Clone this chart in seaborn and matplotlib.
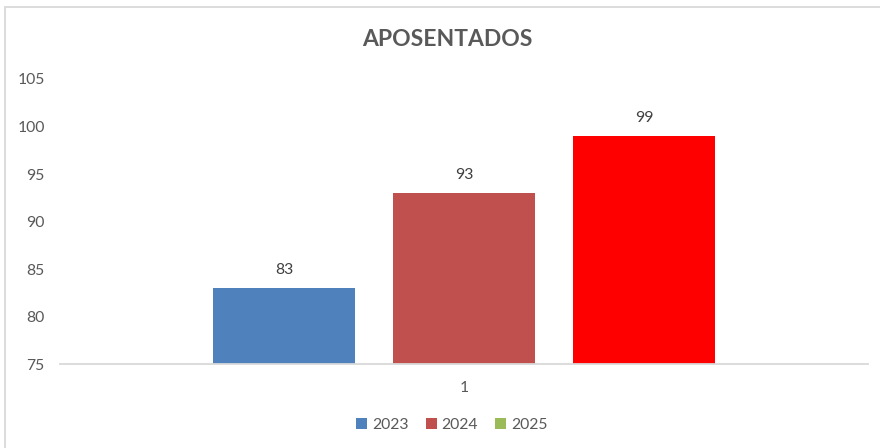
import matplotlib
matplotlib.use("Agg")
import matplotlib.pyplot as plt
import matplotlib.patches as mpatches
import seaborn as sns
import pandas as pd

categories = ["1", "1", "1"]
years = ["2023", "2024", "2025"]
values = [83, 93, 99]
legend_colors = ["#4F81BD", "#C0504D", "#9BBB59"]
bar_colors = ["#4F81BD", "#C0504D", "#FF0000"]
yticks = [75, 80, 85, 90, 95, 100, 105]

sns.set_theme(style="white")
plt.rcParams["font.family"] = ["Lato", "DejaVu Sans"]
TXT = "#595959"
FS = 11.3

df = pd.DataFrame({"cat": categories, "year": years, "value": values})

fig = plt.figure(figsize=(8.8, 4.48), dpi=100)
ax = fig.add_axes([60/880, 84/448, 808/880, 285/448])

sns.barplot(data=df, x="cat", y="value", hue="year", palette=legend_colors,
            width=0.8, gap=0.211, ax=ax, legend=False, saturation=1)

for cont, col in zip(ax.containers, bar_colors):
    for p in cont:
        p.set_facecolor(col)
        p.set_edgecolor("none")
    ax.bar_label(cont, labels=[f"{v:g}" for v in cont.datavalues], padding=8,
                 fontsize=FS, color="#404040")

ax.set_ylim(75, 105)
ax.set_yticks(yticks)
ax.set_xlim(-0.5985, 0.5985)
ax.set_xlabel("")
ax.set_ylabel("")
ax.tick_params(axis="both", length=0, labelsize=FS, colors=TXT)
ax.tick_params(axis="y", pad=11)
ax.tick_params(axis="x", pad=12)
for s in ["top", "left", "right"]:
    ax.spines[s].set_visible(False)
ax.spines["bottom"].set_color("#D9D9D9")
ax.spines["bottom"].set_linewidth(1.3)
ax.grid(False)

fig.text(447/880, 1 - 40/448, "APOSENTADOS", ha="center", va="center",
         fontsize=16.5, fontweight="bold", color=TXT)

handles = [mpatches.Patch(facecolor=c, edgecolor="none") for c in legend_colors]
fig.legend(handles, years, loc="center", bbox_to_anchor=(452/880, 1 - 425/448),
           ncol=3, frameon=False, fontsize=FS, labelcolor=TXT,
           handlelength=0.7, handleheight=0.7, handletextpad=0.3, columnspacing=1.1)

border = mpatches.Rectangle((5/880, -0.1), 1.0, 1 - 7/448 + 0.1,
                            transform=fig.transFigure, fill=False,
                            edgecolor="#D9D9D9", linewidth=1.3)
fig.patches.append(border)

fig.savefig("out.png", dpi=100)
